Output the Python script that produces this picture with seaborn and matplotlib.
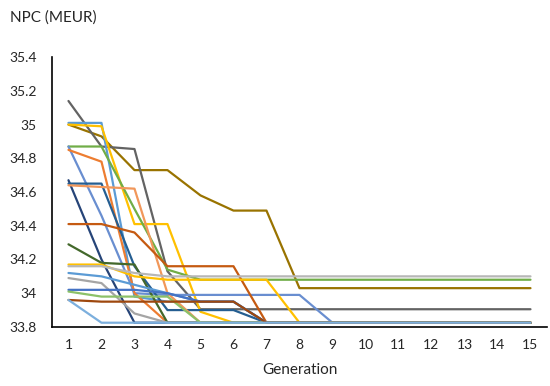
import numpy as np
import pandas as pd
import matplotlib
matplotlib.use("Agg")
import matplotlib.pyplot as plt
import seaborn as sns

generations = list(range(1, 16))

s01 = [35.00, 34.93, 34.73, 34.73, 34.58, 34.49, 34.49, 34.03, 34.03, 34.03, 34.03, 34.03, 34.03, 34.03, 34.03]
s02 = [35.14, 34.87, 34.855, 34.13, 33.905, 33.905, 33.905, 33.905, 33.905, 33.905, 33.905, 33.905, 33.905, 33.905, 33.905]
s03 = [35.01, 35.01, 33.98, 33.95, 33.95, 33.95, 33.825, 33.825, 33.825, 33.825, 33.825, 33.825, 33.825, 33.825, 33.825]
s04 = [35.00, 34.99, 34.41, 34.41, 33.89, 33.825, 33.825, 33.825, 33.825, 33.825, 33.825, 33.825, 33.825, 33.825, 33.825]
s05 = [34.87, 34.87, 34.50, 34.14, 34.08, 34.08, 34.08, 34.08, 34.08, 34.08, 34.08, 34.08, 34.08, 34.08, 34.08]
s06 = [34.87, 34.46, 34.00, 33.99, 33.99, 33.99, 33.99, 33.99, 33.825, 33.825, 33.825, 33.825, 33.825, 33.825, 33.825]
s07 = [34.85, 34.78, 34.00, 33.825, 33.825, 33.825, 33.825, 33.825, 33.825, 33.825, 33.825, 33.825, 33.825, 33.825, 33.825]
s08 = [34.67, 34.20, 33.825, 33.825, 33.825, 33.825, 33.825, 33.825, 33.825, 33.825, 33.825, 33.825, 33.825, 33.825, 33.825]
s09 = [34.65, 34.65, 34.16, 33.90, 33.90, 33.90, 33.825, 33.825, 33.825, 33.825, 33.825, 33.825, 33.825, 33.825, 33.825]
s10 = [34.64, 34.63, 34.62, 34.00, 33.825, 33.825, 33.825, 33.825, 33.825, 33.825, 33.825, 33.825, 33.825, 33.825, 33.825]
s11 = [34.41, 34.41, 34.36, 34.16, 34.16, 34.16, 33.825, 33.825, 33.825, 33.825, 33.825, 33.825, 33.825, 33.825, 33.825]
s12 = [34.29, 34.18, 34.17, 33.825, 33.825, 33.825, 33.825, 33.825, 33.825, 33.825, 33.825, 33.825, 33.825, 33.825, 33.825]
s13 = [34.17, 34.17, 34.10, 34.08, 34.08, 34.08, 34.08, 33.825, 33.825, 33.825, 33.825, 33.825, 33.825, 33.825, 33.825]
s14 = [34.16, 34.16, 34.12, 34.10, 34.10, 34.10, 34.10, 34.10, 34.10, 34.10, 34.10, 34.10, 34.10, 34.10, 34.10]
s15 = [34.12, 34.10, 34.05, 34.00, 33.95, 33.95, 33.825, 33.825, 33.825, 33.825, 33.825, 33.825, 33.825, 33.825, 33.825]
s16 = [34.09, 34.06, 33.88, 33.825, 33.825, 33.825, 33.825, 33.825, 33.825, 33.825, 33.825, 33.825, 33.825, 33.825, 33.825]
s17 = [34.02, 34.02, 34.02, 34.00, 33.95, 33.95, 33.825, 33.825, 33.825, 33.825, 33.825, 33.825, 33.825, 33.825, 33.825]
s18 = [34.01, 33.98, 33.98, 33.98, 33.825, 33.825, 33.825, 33.825, 33.825, 33.825, 33.825, 33.825, 33.825, 33.825, 33.825]
s19 = [33.96, 33.95, 33.95, 33.95, 33.95, 33.95, 33.825, 33.825, 33.825, 33.825, 33.825, 33.825, 33.825, 33.825, 33.825]
s20 = [33.96, 33.825, 33.825, 33.825, 33.825, 33.825, 33.825, 33.825, 33.825, 33.825, 33.825, 33.825, 33.825, 33.825, 33.825]

series = {
    "s01": s01, "s02": s02, "s03": s03, "s04": s04, "s05": s05,
    "s06": s06, "s07": s07, "s08": s08, "s09": s09, "s10": s10,
    "s11": s11, "s12": s12, "s13": s13, "s14": s14, "s15": s15,
    "s16": s16, "s17": s17, "s18": s18, "s19": s19, "s20": s20,
}
colors = {
    "s01": "#997300", "s02": "#636363", "s03": "#5B9BD5", "s04": "#FFC000",
    "s05": "#70AD47", "s06": "#698ED0", "s07": "#ED7D31", "s08": "#264478",
    "s09": "#255E91", "s10": "#F1975A", "s11": "#C55A11", "s12": "#43682B",
    "s13": "#FFC000", "s14": "#B7B7B7", "s15": "#5B9BD5", "s16": "#A5A5A5",
    "s17": "#4472C4", "s18": "#8CC168", "s19": "#9E480E", "s20": "#7CAFDD",
}

rows = []
for name, vals in series.items():
    for g, v in zip(generations, vals):
        rows.append({"Generation": g, "NPC": v, "series": name})
df = pd.DataFrame(rows)

sns.set_style("white")
plt.rcParams["font.family"] = ["Lato", "DejaVu Sans"]

fig = plt.figure(figsize=(5.5, 3.86), dpi=100)
ax = fig.add_axes([0.0945, 0.153, 0.9, 0.699])

# draw in reverse order so early series lie on top
order = list(series.keys())
sns.lineplot(data=df, x="Generation", y="NPC", hue="series", hue_order=order,
             palette=colors, linewidth=1.6, legend=False, ax=ax, sort=False,
             estimator=None)

ax.set_xlim(0.5, 15.5)
ax.set_ylim(33.8, 35.4)
yt = np.round(np.arange(33.8, 35.41, 0.2), 1)
ax.set_yticks(yt)
ax.set_yticklabels([("%g" % v) for v in yt], fontsize=10)
ax.set_xticks(np.arange(0.5, 15.6, 1.0))
ax.set_xticklabels([])
ax.set_xticks(generations, minor=True)
ax.set_xticklabels([str(g) for g in generations], minor=True, fontsize=10)
ax.tick_params(axis="x", which="major", direction="out", length=5, width=1, color="black")
ax.tick_params(axis="x", which="minor", length=0, pad=9)
ax.tick_params(axis="y", direction="out", length=5, width=1, color="black", pad=6)

for s in ["top", "right"]:
    ax.spines[s].set_visible(False)
for s in ["left", "bottom"]:
    ax.spines[s].set_color("black")
    ax.spines[s].set_linewidth(1.2)

ax.set_xlabel("Generation", fontsize=11, labelpad=8)
ax.set_ylabel("")
fig.text(0.018, 0.955, "NPC (MEUR)", fontsize=11, ha="left", va="center")

fig.savefig("out.png", dpi=100)
